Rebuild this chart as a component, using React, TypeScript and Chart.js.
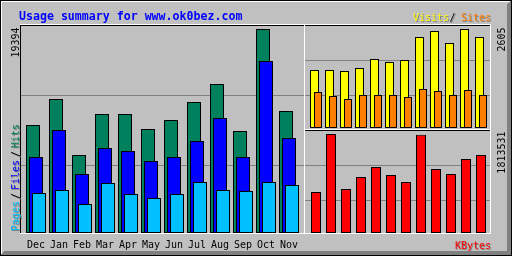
import React, { useEffect, useRef } from "react";
import { Chart, registerables } from "chart.js";

Chart.register(...registerables);

const TITLE = "Usage summary for www.ok0bez.com";
const MONTHS = ["Dec", "Jan", "Feb", "Mar", "Apr", "May", "Jun", "Jul", "Aug", "Sep", "Oct", "Nov"];
const HITS = [10268, 12739, 7415, 11313, 11313, 9887, 10743, 12454, 14165, 9697, 19394, 11598];
const FILES = [7225, 9792, 5609, 8081, 7796, 6845, 7225, 8746, 10933, 7225, 16352, 9032];
const PAGES = [3803, 4088, 2757, 4754, 3708, 3327, 3708, 4849, 4088, 3993, 4849, 4563];
const VISITS = [1526, 1526, 1500, 1579, 1815, 1736, 1789, 2394, 2552, 2236, 2605, 2394];
const SITES = [947, 842, 763, 868, 868, 868, 816, 1026, 973, 868, 1000, 868];
const KBYTES = [751059, 1813531, 806014, 1025836, 1209021, 1062473, 934244, 1800000, 1172384, 1080792, 1355569, 1428843];

const HITS_MAX = Math.max(...HITS);
const VISITS_MAX = Math.max(...VISITS);
const KB_MAX = Math.max(...KBYTES);

const GREY = "#c0c0c0";
const DKGREY = "#808080";
const BLACK = "#000000";
const WHITE = "#ffffff";
const BLUE = "#0000ff";
const HIT_C = "#00805c";
const FILE_C = "#0000ff";
const PAGE_C = "#00c0ff";
const VISIT_C = "#ffff00";
const SITE_C = "#ff8000";
const KB_C = "#ff0000";
const MONO = "'DejaVu Sans Mono', monospace";

function hl(ctx: CanvasRenderingContext2D, x1: number, x2: number, y: number, c: string) {
  ctx.fillStyle = c;
  ctx.fillRect(x1, y, x2 - x1 + 1, 1);
}
function vl(ctx: CanvasRenderingContext2D, x: number, y1: number, y2: number, c: string) {
  ctx.fillStyle = c;
  ctx.fillRect(x, y1, 1, y2 - y1 + 1);
}
function txt(ctx: CanvasRenderingContext2D, s: string, x: number, y: number, color: string, align: CanvasTextAlign, shadow: boolean, font: string) {
  ctx.font = font;
  ctx.textAlign = align;
  ctx.textBaseline = "alphabetic";
  if (shadow) {
    ctx.fillStyle = DKGREY;
    ctx.fillText(s, x + 1, y + 1);
  }
  ctx.fillStyle = color;
  ctx.fillText(s, x, y);
}
function txtUp(ctx: CanvasRenderingContext2D, s: string, x: number, y: number, color: string, align: CanvasTextAlign, shadow: boolean, font: string) {
  const one = (dx: number, dy: number, c: string) => {
    ctx.save();
    ctx.translate(x + dx, y + dy);
    ctx.rotate(-Math.PI / 2);
    ctx.font = font;
    ctx.textAlign = align;
    ctx.textBaseline = "alphabetic";
    ctx.fillStyle = c;
    ctx.fillText(s, 0, 0);
    ctx.restore();
  };
  if (shadow) one(1, 1, DKGREY);
  one(0, 0, color);
}

const SMALL = `10px ${MONO}`;
const TITLE_FONT = `bold 11.6px ${MONO}`;

const framePlugin = {
  id: "frame",
  beforeDraw(chart: any) {
    const ctx: CanvasRenderingContext2D = chart.ctx;
    ctx.save();
    ctx.fillStyle = GREY;
    ctx.fillRect(0, 0, 512, 256);
    // outer border
    hl(ctx, 0, 511, 0, BLACK);
    hl(ctx, 0, 511, 255, BLACK);
    vl(ctx, 0, 0, 255, BLACK);
    vl(ctx, 511, 0, 255, BLACK);
    hl(ctx, 1, 509, 1, WHITE);
    vl(ctx, 1, 1, 253, WHITE);
    for (let i = 1; i <= 4; i++) {
      hl(ctx, i, 510, 255 - i, DKGREY);
      vl(ctx, 511 - i, i, 254, DKGREY);
    }
    // panels
    hl(ctx, 20, 490, 24, WHITE);
    hl(ctx, 20, 490, 25, BLACK);
    vl(ctx, 20, 25, 233, BLACK);
    hl(ctx, 20, 490, 233, WHITE);
    vl(ctx, 490, 25, 233, WHITE);
    vl(ctx, 304, 25, 233, WHITE);
    hl(ctx, 305, 489, 129, WHITE);
    hl(ctx, 305, 489, 130, BLACK);
    // grid lines
    hl(ctx, 21, 303, 95, DKGREY);
    hl(ctx, 21, 303, 165, DKGREY);
    hl(ctx, 305, 489, 60, DKGREY);
    hl(ctx, 305, 489, 95, DKGREY);
    hl(ctx, 305, 489, 165, DKGREY);
    hl(ctx, 305, 489, 200, DKGREY);

    // title
    txt(ctx, TITLE, 19, 20, BLUE, "left", false, TITLE_FONT);
    // visits / sites legend
    txt(ctx, "Sites", 491, 21, SITE_C, "right", true, SMALL);
    txt(ctx, "/", 452.5, 21, BLACK, "center", true, SMALL);
    txt(ctx, "Visits", 449, 21, VISIT_C, "right", true, SMALL);
    // kbytes legend
    txt(ctx, "KBytes", 491, 248.5, KB_C, "right", true, SMALL);
    // left legend
    txtUp(ctx, "Pages", 18.5, 231, PAGE_C, "left", true, SMALL);
    txtUp(ctx, "/", 18.5, 196, BLACK, "center", true, SMALL);
    txtUp(ctx, "Files", 18.5, 190, FILE_C, "left", true, SMALL);
    txtUp(ctx, "/", 18.5, 154, BLACK, "center", true, SMALL);
    txtUp(ctx, "Hits", 18.5, 148, HIT_C, "left", true, SMALL);
    // max values
    txtUp(ctx, String(HITS_MAX), 18.5, 27.5, BLACK, "right", false, SMALL);
    txtUp(ctx, String(VISITS_MAX), 504.5, 27.5, BLACK, "right", false, SMALL);
    txtUp(ctx, String(KB_MAX), 504.5, 131.5, BLACK, "right", false, SMALL);
    ctx.restore();
  },
};

const drawOrderPlugin = {
  id: "drawOrder",
  beforeDatasetsDraw(chart: any) {
    chart.data.datasets.forEach((_: any, i: number) => {
      const meta = chart.getDatasetMeta(i);
      if (!meta.hidden) meta.controller.draw();
    });
    return false;
  },
};

const barDefaults = {
  borderColor: BLACK,
  borderWidth: 1,
  borderSkipped: false,
  inflateAmount: 0,
};

function commonOptions(pad: any, yMax: number, xAxis: any) {
  return {
    responsive: false,
    animation: false,
    devicePixelRatio: 1,
    events: [],
    layout: { padding: pad },
    plugins: { legend: { display: false }, tooltip: { enabled: false }, title: { display: false } },
    datasets: { bar: barDefaults },
    scales: {
      x: xAxis,
      y: { display: false, min: 0, max: yMax },
    },
  };
}

export default function App() {
  const mainRef = useRef<HTMLCanvasElement>(null);
  const vsRef = useRef<HTMLCanvasElement>(null);
  const kbRef = useRef<HTMLCanvasElement>(null);

  useEffect(() => {
    document.body.style.margin = "0";
    const charts: Chart[] = [];
    charts.push(
      new Chart(mainRef.current!, {
        type: "bar",
        data: {
          labels: MONTHS,
          datasets: [
            { label: "Hits", data: HITS, backgroundColor: HIT_C, categoryPercentage: 9 / 23, barPercentage: 14 / 3 },
            { label: "Files", data: FILES, backgroundColor: FILE_C, categoryPercentage: 9 / 23, barPercentage: 14 / 3 },
            { label: "Pages", data: PAGES, backgroundColor: PAGE_C, categoryPercentage: 9 / 23, barPercentage: 14 / 3 },
          ],
        },
        options: commonOptions({ left: 24.5, right: 211.5, top: 29, bottom: 0 }, HITS_MAX, {
          display: true,
          grid: { display: false, drawTicks: false },
          border: { display: false },
          ticks: { font: { family: MONO, size: 10 }, color: BLACK, padding: 6, maxRotation: 0, autoSkip: false },
          afterFit: (s: any) => {
            s.height = 23;
          },
        }) as any,
        plugins: [framePlugin, drawOrderPlugin],
      })
    );
    charts.push(
      new Chart(vsRef.current!, {
        type: "bar",
        data: {
          labels: MONTHS,
          datasets: [
            { label: "Visits", data: VISITS, backgroundColor: VISIT_C, categoryPercentage: 7 / 15, barPercentage: 18 / 7 },
            { label: "Sites", data: SITES, backgroundColor: SITE_C, categoryPercentage: 7 / 15, barPercentage: 16 / 7 },
          ],
        },
        options: commonOptions({ left: 308.75, right: 23.25, top: 29, bottom: 128 }, VISITS_MAX, { display: false }) as any,
        plugins: [drawOrderPlugin],
      })
    );
    charts.push(
      new Chart(kbRef.current!, {
        type: "bar",
        data: {
          labels: MONTHS,
          datasets: [{ label: "KBytes", data: KBYTES, backgroundColor: KB_C, categoryPercentage: 1, barPercentage: 2 / 3 }],
        },
        options: commonOptions({ left: 308.5, right: 23.5, top: 134, bottom: 23 }, KB_MAX, { display: false }) as any,
      })
    );
    return () => charts.forEach((c) => c.destroy());
  }, []);

  const cs: React.CSSProperties = { position: "absolute", left: 0, top: 0, width: 512, height: 256 };
  return (
    <div style={{ position: "fixed", left: 0, top: 0, width: 512, height: 256 }}>
      <canvas ref={mainRef} width={512} height={256} style={cs} />
      <canvas ref={vsRef} width={512} height={256} style={cs} />
      <canvas ref={kbRef} width={512} height={256} style={cs} />
    </div>
  );
}
